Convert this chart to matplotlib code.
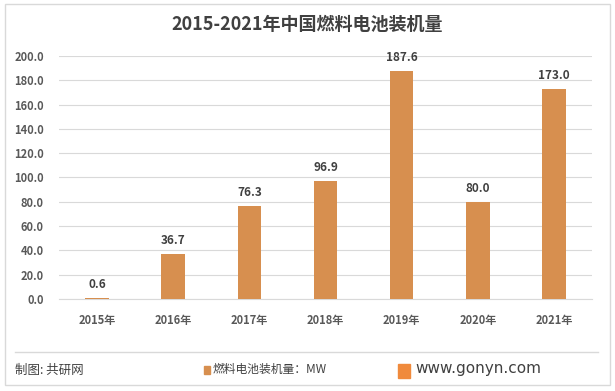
import matplotlib.pyplot as plt
from matplotlib.patches import Rectangle
from matplotlib.lines import Line2D

plt.rcParams['font.family'] = ['Noto Sans CJK SC', 'DejaVu Sans']

years = ['2015年', '2016年', '2017年', '2018年', '2019年', '2020年', '2021年']
values = [0.6, 36.7, 76.3, 96.9, 187.6, 80.0, 173.0]
yticks = [0, 20, 40, 60, 80, 100, 120, 140, 160, 180, 200]

bar_color = '#D78F4F'
text_color = '#404040'

W, H = 615, 391
fig = plt.figure(figsize=(W / 100, H / 100), dpi=100)

# outer frame
fig.patches.append(Rectangle((5 / W, 1 - 385 / H), 605 / W, 381 / H,
                             transform=fig.transFigure, fill=False,
                             edgecolor='#D9D9D9', linewidth=1))

ax = fig.add_axes([59 / W, 1 - 299 / H, 533 / W, 243 / H])
x = range(len(years))
bars = ax.bar(x, values, width=0.31, color=bar_color, zorder=3)
for xi, v in zip(x, values):
    ax.text(xi, v + 6, f'{v:.1f}', ha='center', va='bottom',
            fontsize=8.5, fontweight='bold', color=text_color)

ax.set_ylim(0, 200)
ax.set_xlim(-0.5, len(years) - 0.5)
ax.set_yticks(yticks)
ax.set_yticklabels([f'{t:.1f}' for t in yticks], fontsize=8,
                   fontweight='bold', color='#595959')
ax.set_xticks(list(x))
ax.set_xticklabels(years, fontsize=8, fontweight='bold', color='#595959')
ax.grid(axis='y', color='#D9D9D9', linewidth=0.8, zorder=0)
for s in ['top', 'right', 'left']:
    ax.spines[s].set_visible(False)
ax.spines['bottom'].set_color('#D9D9D9')
ax.tick_params(axis='x', length=0, pad=11)
ax.tick_params(axis='y', length=0, pad=11)

fig.text(0.5, 1 - 24 / H, '2015-2021年中国燃料电池装机量', ha='center', va='center',
         fontsize=13, fontweight='bold', color=text_color)

# footer
fig.lines.append(Line2D([15 / W, 598 / W], [1 - 352 / H, 1 - 352 / H],
                        transform=fig.transFigure, color='#D9D9D9', linewidth=1))
fig.text(15 / W, 1 - 370 / H, '制图: 共研网', ha='left', va='center',
         fontsize=9, color=text_color)
fig.patches.append(Rectangle((204 / W, 1 - 374 / H), 6 / W, 8 / H,
                             transform=fig.transFigure, color=bar_color))
fig.text(213 / W, 1 - 370 / H, '燃料电池装机量：MW', ha='left', va='center',
         fontsize=8.5, color=text_color)
fig.patches.append(Rectangle((398 / W, 1 - 378 / H), 12 / W, 14 / H,
                             transform=fig.transFigure, color='#F08A3C'))
fig.text(415 / W, 1 - 369 / H, 'www.gonyn.com', ha='left', va='center',
         fontsize=11, color=text_color, family=['DejaVu Sans'])

fig.savefig('out.png', dpi=100)
